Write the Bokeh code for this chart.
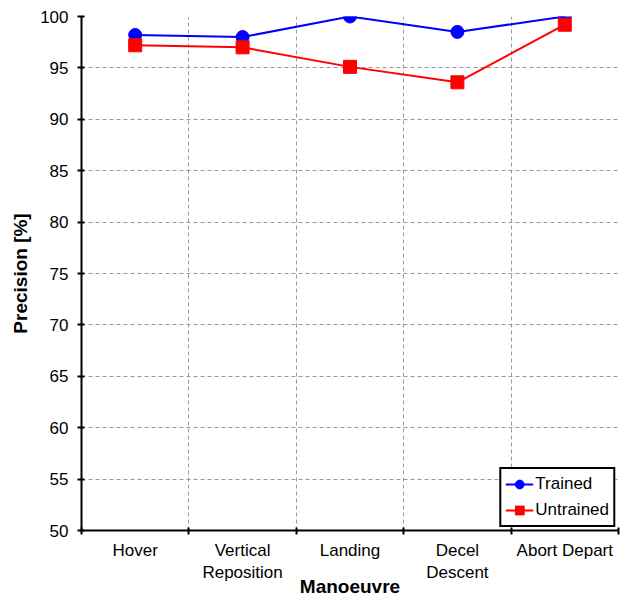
from bokeh.plotting import figure
from bokeh.models import FixedTicker, Range1d, Legend, LegendItem
from bokeh.embed import file_html
from bokeh.resources import INLINE

categories = ["Hover", "Vertical\nReposition", "Landing", "Decel\nDescent", "Abort Depart"]
trained = [98.2, 98.0, 100.0, 98.5, 100.0]
untrained = [97.2, 97.0, 95.1, 93.6, 99.2]
y_ticks = [50, 55, 60, 65, 70, 75, 80, 85, 90, 95, 100]

xs = [i + 0.5 for i in range(len(categories))]
bounds = list(range(len(categories) + 1))

FONT = "Liberation Sans"

p = figure(width=620, height=600, output_backend="svg", toolbar_location=None,
           x_range=Range1d(0, len(categories)), y_range=Range1d(50, 100),
           min_border_left=81, min_border_right=2, min_border_top=16, min_border_bottom=70)
p.outline_line_color = None
p.background_fill_color = "white"
p.border_fill_color = "white"

# grids
p.xgrid.ticker = FixedTicker(ticks=bounds[1:])
p.ygrid.ticker = FixedTicker(ticks=y_ticks)
for g in (p.xgrid, p.ygrid):
    g.grid_line_color = "#999999"
    g.grid_line_dash = "4 3"
    g.grid_line_width = 1

# x axis
xa = p.xaxis[0]
xa.ticker = FixedTicker(ticks=xs, minor_ticks=bounds)
xa.major_label_overrides = {x: c for x, c in zip(xs, categories)}
xa.major_tick_out = 0
xa.major_tick_in = 0
xa.minor_tick_out = 4
xa.minor_tick_in = 3
xa.minor_tick_line_width = 2
xa.minor_tick_line_color = "black"
xa.axis_line_width = 2
xa.axis_line_color = "black"
xa.major_label_text_font = FONT
xa.major_label_text_font_size = "17px"
xa.major_label_text_color = "black"
xa.major_label_standoff = 6
xa.axis_label = "Manoeuvre"
xa.axis_label_text_font = FONT
xa.axis_label_text_font_size = "19px"
xa.axis_label_text_font_style = "bold"
xa.axis_label_text_color = "black"
xa.axis_label_standoff = -9

# y axis
ya = p.yaxis[0]
ya.ticker = FixedTicker(ticks=y_ticks, minor_ticks=[])
ya.major_tick_out = 4
ya.major_tick_in = 3
ya.major_tick_line_width = 2
ya.axis_line_width = 2
ya.axis_line_color = "black"
ya.major_label_text_font = FONT
ya.major_label_text_font_size = "17px"
ya.major_label_text_color = "black"
ya.major_label_standoff = 9
ya.axis_label = "Precision [%]"
ya.axis_label_text_font = FONT
ya.axis_label_text_font_size = "19px"
ya.axis_label_text_font_style = "bold"
ya.axis_label_text_color = "black"
ya.axis_label_standoff = 6

l1 = p.line(xs, trained, line_color="blue", line_width=2)
s1 = p.scatter(xs, trained, marker="circle", size=13, fill_color="blue", line_color="blue")
l2 = p.line(xs, untrained, line_color="red", line_width=2)
s2 = p.scatter(xs, untrained, marker="square", size=13, fill_color="red", line_color="red")

legend = Legend(items=[LegendItem(label="Trained", renderers=[l1, s1]),
                       LegendItem(label="Untrained", renderers=[l2, s2])],
                location="bottom_right")
legend.border_line_color = "black"
legend.border_line_alpha = 1
legend.border_line_width = 2
legend.background_fill_color = "white"
legend.background_fill_alpha = 1
legend.label_text_font = FONT
legend.label_text_font_size = "17px"
legend.label_text_color = "black"
legend.glyph_width = 28
legend.glyph_height = 22
legend.label_standoff = 2
legend.spacing = 4
legend.padding = 4
legend.margin = 3
legend.label_height = 22
p.add_layout(legend)

open("out.html", "w").write(file_html(p, INLINE))
